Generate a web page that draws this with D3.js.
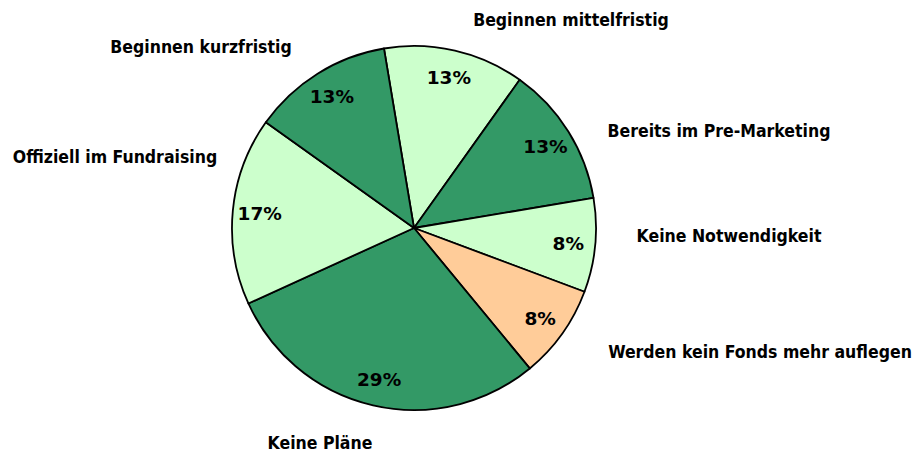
<!DOCTYPE html>
<html>
<head>
<meta charset="utf-8">
<script src="https://cdn.jsdelivr.net/npm/d3@7"></script>
<style>
  body { margin: 0; background: #fff; }
  .cat { font-family: "DejaVu Sans Condensed", "DejaVu Sans", sans-serif; font-weight: bold; font-size: 17.5px; }
  .pct { font-family: "DejaVu Sans", sans-serif; font-weight: bold; font-size: 18.5px; }
</style>
</head>
<body>
<div id="chart"></div>
<script>
// answers, clockwise from the top
const categories = ['Beginnen mittelfristig', 'Bereits im Pre-Marketing', 'Keine Notwendigkeit',
    'Werden kein Fonds mehr auflegen', 'Keine Pläne', 'Offiziell im Fundraising', 'Beginnen kurzfristig'];
const shares = [13, 13, 8, 8, 29, 17, 13];
const counts = [3, 3, 2, 2, 7, 4, 3];
const colors = ['#ccffcc', '#339966', '#ccffcc', '#ffcc99', '#339966', '#ccffcc', '#339966'];

// where Excel put the category labels (centre of text)
const labelPos = [[571, 20], [719, 131], [729, 236], [760, 352], [320, 443], [115, 157], [201, 47]];

const width = 913, height = 452;
const cx = 414, cy = 228, radius = 182;

const svg = d3.select("#chart")
    .append("svg")
    .attr("width", width)
    .attr("height", height);

const g = svg.append("g")
    .attr("transform", `translate(${cx}, ${cy})`);

const pie = d3.pie()
    .value(d => d)
    .sort(null)
    .startAngle(-9.5 * Math.PI / 180)
    .endAngle((360 - 9.5) * Math.PI / 180);

const arcs = pie(counts);

const arc = d3.arc().innerRadius(0).outerRadius(radius);
const labelArc = d3.arc().innerRadius(155).outerRadius(155);

g.selectAll("path")
    .data(arcs)
    .join("path")
    .attr("d", arc)
    .attr("fill", (d, i) => colors[i])
    .attr("stroke", "#000")
    .attr("stroke-width", 1.8)
    .attr("stroke-linejoin", "round");

g.selectAll("text.pct")
    .data(arcs)
    .join("text")
    .attr("class", "pct")
    .attr("transform", d => `translate(${labelArc.centroid(d)})`)
    .attr("text-anchor", "middle")
    .attr("dy", "0.36em")
    .text((d, i) => shares[i] + "%");

svg.selectAll("text.cat")
    .data(categories)
    .join("text")
    .attr("class", "cat")
    .attr("x", (d, i) => labelPos[i][0])
    .attr("y", (d, i) => labelPos[i][1])
    .attr("text-anchor", "middle")
    .attr("dy", "0.36em")
    .text(d => d);
</script>
</body>
</html>
